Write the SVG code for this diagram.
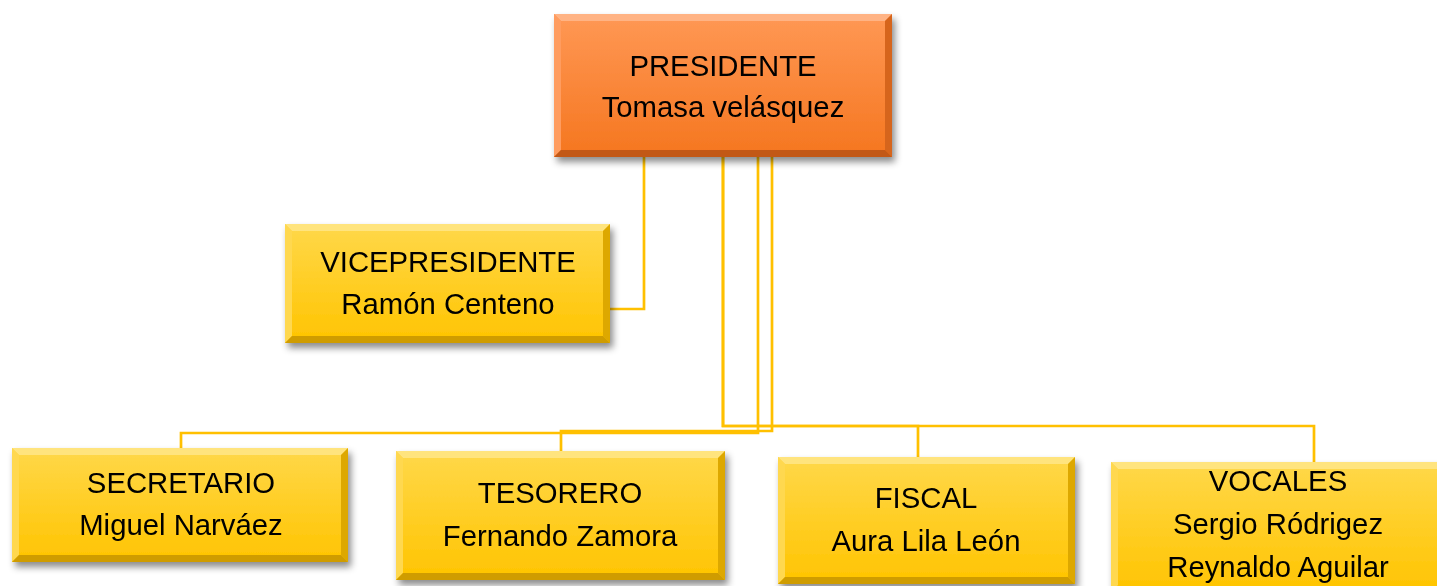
<svg xmlns="http://www.w3.org/2000/svg" width="1437" height="586" viewBox="0 0 1437 586">
<style>
text{font-family:"Liberation Sans",Arial,sans-serif;font-size:29.3px;fill:#000;text-anchor:middle}
.conn{fill:none;stroke:#FFC000;stroke-width:2.7}
.y .face{fill:url(#gy)}
.y .bt{fill:#FFE47E}
.y .bl{fill:#FFD850}
.y .br{fill:#DDA800}
.y .bb{fill:#CF9C00}
.o .face{fill:url(#go)}
.o .bt{fill:#FFB384}
.o .bl{fill:#FF9C5E}
.o .br{fill:#D6651E}
.o .bb{fill:#C25814}
</style>
<defs>
<linearGradient id="gy" x1="0" y1="0" x2="0" y2="1">
<stop offset="0" stop-color="#FFD84A"/>
<stop offset="1" stop-color="#FFC400"/>
</linearGradient>
<linearGradient id="go" x1="0" y1="0" x2="0" y2="1">
<stop offset="0" stop-color="#FF9855"/>
<stop offset="1" stop-color="#F5761F"/>
</linearGradient>
<filter id="sh" x="-10%" y="-10%" width="125%" height="135%">
<feDropShadow dx="3" dy="5" stdDeviation="3.5" flood-color="#000" flood-opacity="0.45"/>
</filter>
</defs>
<rect width="1437" height="586" fill="#fff"/>
<g id="connectors">
<polyline class="conn" points="644,157 644,309 610,309"/>
<polyline class="conn" points="758,157 758,433 181,433 181,448"/>
<polyline class="conn" points="772,157 772,431 561,431 561,451"/>
<polyline class="conn" points="723,157 723,426 918,426 918,457"/>
<polyline class="conn" points="723,157 723,426 1314,426 1314,462"/>
</g>
<g id="presidente" class="o" filter="url(#sh)">
<rect class="face" x="554" y="14" width="338" height="143"/>
<polygon class="bt" points="554,14 892,14 885,21 561,21"/>
<polygon class="bl" points="554,14 561,21 561,150 554,157"/>
<polygon class="br" points="892,14 892,157 885,150 885,21"/>
<polygon class="bb" points="554,157 892,157 885,150 561,150"/>
<text x="723" y="76">PRESIDENTE</text>
<text x="723" y="117">Tomasa velásquez</text>
</g>
<g id="vicepresidente" class="y" filter="url(#sh)">
<rect class="face" x="285" y="224" width="325" height="119"/>
<polygon class="bt" points="285,224 610,224 603,231 292,231"/>
<polygon class="bl" points="285,224 292,231 292,336 285,343"/>
<polygon class="br" points="610,224 610,343 603,336 603,231"/>
<polygon class="bb" points="285,343 610,343 603,336 292,336"/>
<text x="448" y="272">VICEPRESIDENTE</text>
<text x="448" y="314">Ramón Centeno</text>
</g>
<g id="secretario" class="y" filter="url(#sh)">
<rect class="face" x="12" y="448" width="336" height="114"/>
<polygon class="bt" points="12,448 348,448 341,455 19,455"/>
<polygon class="bl" points="12,448 19,455 19,555 12,562"/>
<polygon class="br" points="348,448 348,562 341,555 341,455"/>
<polygon class="bb" points="12,562 348,562 341,555 19,555"/>
<text x="181" y="493">SECRETARIO</text>
<text x="181" y="535">Miguel Narváez</text>
</g>
<g id="tesorero" class="y" filter="url(#sh)">
<rect class="face" x="396" y="451" width="329" height="129"/>
<polygon class="bt" points="396,451 725,451 718,458 403,458"/>
<polygon class="bl" points="396,451 403,458 403,573 396,580"/>
<polygon class="br" points="725,451 725,580 718,573 718,458"/>
<polygon class="bb" points="396,580 725,580 718,573 403,573"/>
<text x="560" y="503">TESORERO</text>
<text x="560" y="546">Fernando Zamora</text>
</g>
<g id="fiscal" class="y" filter="url(#sh)">
<rect class="face" x="778" y="457" width="297" height="127"/>
<polygon class="bt" points="778,457 1075,457 1068,464 785,464"/>
<polygon class="bl" points="778,457 785,464 785,577 778,584"/>
<polygon class="br" points="1075,457 1075,584 1068,577 1068,464"/>
<polygon class="bb" points="778,584 1075,584 1068,577 785,577"/>
<text x="926" y="508">FISCAL</text>
<text x="926" y="551">Aura Lila León</text>
</g>
<g id="vocales" class="y" filter="url(#sh)">
<rect class="face" x="1111" y="462" width="334" height="130"/>
<polygon class="bt" points="1111,462 1445,462 1438,469 1118,469"/>
<polygon class="bl" points="1111,462 1118,469 1118,585 1111,592"/>
<text x="1278" y="491">VOCALES</text>
<text x="1278" y="534">Sergio Ródrigez</text>
<text x="1278" y="577">Reynaldo Aguilar</text>
</g>
</svg>
